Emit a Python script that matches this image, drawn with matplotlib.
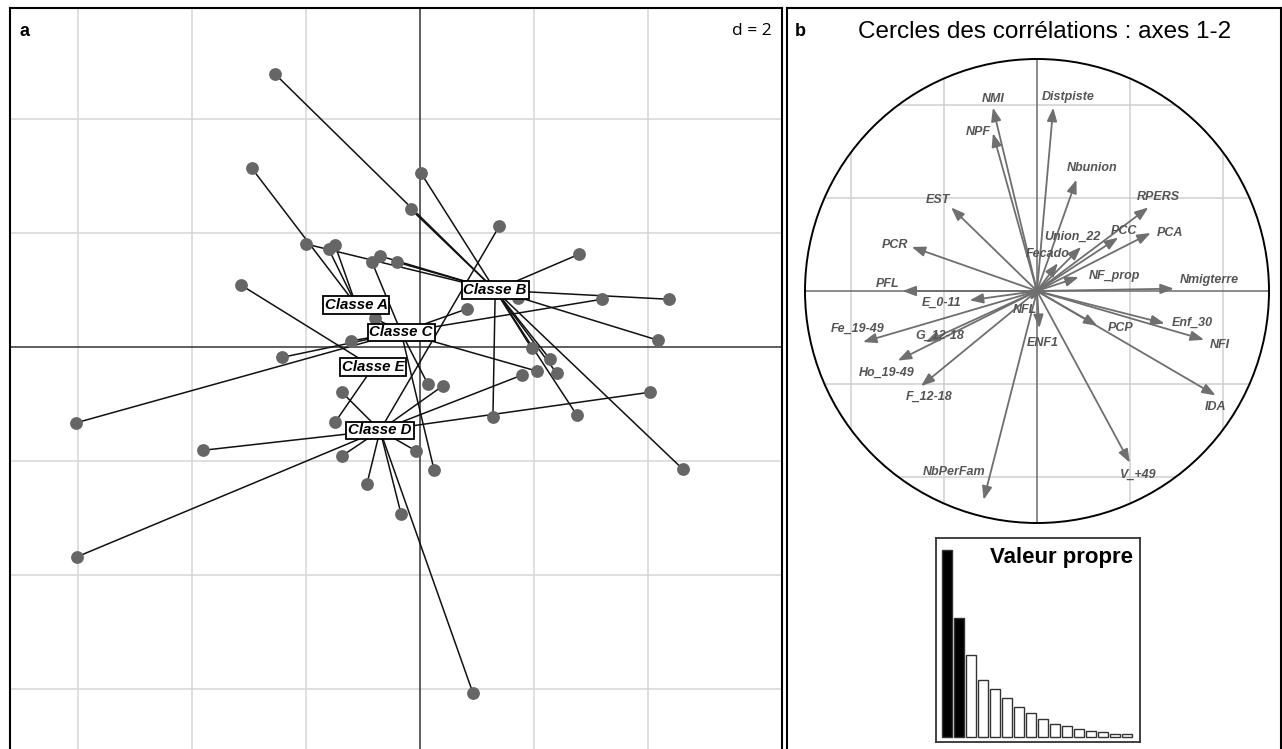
import matplotlib.pyplot as plt
from matplotlib.patches import Circle

plt.rcParams['font.family'] = ['Liberation Sans', 'DejaVu Sans']

W, H = 1282, 749

# individuals on the factorial plane (axes 1-2), grouped by class
class_names = ["Classe A", "Classe B", "Classe C", "Classe D", "Classe E"]
class_x = [-1.12, 1.32, -0.33, -0.70, -0.82]
class_y = [0.74, 1.00, 0.26, -1.46, -0.35]

ind_x = [-2.95, -1.60, -1.49,
         -2.54, 0.02, -0.16, -2.00, -0.70, -0.40, 2.79, 4.37, 4.18, 1.72,
         1.96, 2.28, 2.40, 1.28, 2.75, 4.61,
         -0.84, -0.79, -1.21, -2.42, -6.04, 3.19, 0.82, 2.05, 0.14, 0.25,
         1.39, -1.37, -1.37, -0.93, -0.33, -0.07, 0.40, 1.79, 4.04, 0.93,
         -3.81, -6.02,
         -3.14, -1.49]
ind_y = [3.14, 1.72, 1.79,
         4.79, 3.05, 2.42, 1.81, 1.60, 1.49, 1.63, 0.84, 0.12, 0.86,
         -0.02, -0.21, -0.46, -1.23, -1.19, -2.14,
         1.49, 0.51, 0.11, -0.18, -1.33, 0.84, 0.67, -0.42, -0.65, -2.16,
         2.12, -0.79, -1.91, -2.40, -2.93, -1.82, -0.68, -0.49, -0.79, -6.07,
         -1.81, -3.68,
         1.09, -1.32]
ind_class = (["Classe A"] * 3 + ["Classe B"] * 16 + ["Classe C"] * 10
             + ["Classe D"] * 12 + ["Classe E"] * 2)

# correlation circle
var_names = ["NMI", "NPF", "EST", "PCR", "PFL", "E_0-11", "NFL", "Distpiste",
             "Nbunion", "RPERS", "PCA", "PCC", "Union_22", "Fecado", "NF_prop",
             "Nmigterre", "Fe_19-49", "G_12-18", "Ho_19-49", "F_12-18",
             "NbPerFam", "ENF1", "Enf_30", "NFI", "PCP", "IDA", "V_+49"]
var_x = [-0.19, -0.19, -0.37, -0.54, -0.58, -0.29, -0.03, 0.07,
         0.17, 0.48, 0.49, 0.35, 0.19, 0.09, 0.18,
         0.59, -0.75, -0.48, -0.60, -0.50,
         -0.23, 0.01, 0.55, 0.72, 0.26, 0.77, 0.40]
var_y = [0.79, 0.68, 0.36, 0.19, 0.00, -0.04, -0.04, 0.79,
         0.48, 0.36, 0.25, 0.23, 0.19, 0.12, 0.06,
         0.01, -0.22, -0.22, -0.30, -0.41,
         -0.90, -0.16, -0.14, -0.21, -0.15, -0.45, -0.74]

eig_values = [5.62, 3.57, 2.47, 1.72, 1.45, 1.17, 0.89, 0.72,
              0.54, 0.40, 0.32, 0.25, 0.19, 0.14, 0.10, 0.09]
n_kept = 2

# label nudges (pixels) relative to each arrow tip
label_offsets = {
    "NMI": (0, 9), "NPF": (-15, 1), "EST": (-13, 7), "PCR": (-17, 2),
    "PFL": (-15, 7), "E_0-11": (-28, -3), "NFL": (-5, -10),
    "Distpiste": (15, 11), "Nbunion": (16, 12), "RPERS": (10, 10),
    "PCA": (19, 0), "PCC": (6, 7), "Union_22": (-9, 10), "Fecado": (-10, 9),
    "NF_prop": (36, 1), "Nmigterre": (35, 9), "Fe_19-49": (-5, 13),
    "G_12-18": (14, 6), "Ho_19-49": (-11, -12), "F_12-18": (8, -11),
    "NbPerFam": (-30, 28), "ENF1": (3, -15), "Enf_30": (28, 1),
    "NFI": (16, -5), "PCP": (23, -2), "IDA": (0, -12), "V_+49": (8, -12),
}


def fig_rect(x0, y0, x1, y1):
    return [x0 / W, 1 - y1 / H, (x1 - x0) / W, (y1 - y0) / H]


fig = plt.figure(figsize=(W / 100, H / 100), dpi=100)

# ---- panel a
ax = fig.add_axes(fig_rect(10, 8, 782, 749))
ax.set_xlim(-7.19, 6.35)
ax.set_ylim(-7.05, 5.95)
for g in [-6, -4, -2, 2, 4]:
    ax.axvline(g, color="#d6d6d6", lw=1.1, zorder=0)
    ax.axhline(g, color="#d6d6d6", lw=1.1, zorder=0)
ax.axvline(0, color="#333333", lw=1.1, zorder=1)
ax.axhline(0, color="#333333", lw=1.1, zorder=1)

for x, y, c in zip(ind_x, ind_y, ind_class):
    k = class_names.index(c)
    ax.plot([x, class_x[k]], [y, class_y[k]], color="#111111", lw=1.1, zorder=2)
ax.scatter(ind_x, ind_y, s=85, color="#666666", linewidths=0, zorder=3)
for name, x, y in zip(class_names, class_x, class_y):
    ax.text(x, y, name, ha="center", va="center", fontsize=10.8,
            fontweight="bold", fontstyle="italic", zorder=4,
            bbox=dict(boxstyle="square,pad=0.12", fc="white", ec="black", lw=1.3))
ax.set_xticks([])
ax.set_yticks([])
ax.spines["bottom"].set_visible(False)
for s in ["left", "top", "right"]:
    ax.spines[s].set_linewidth(1.5)

fig.text(24 / W, 1 - 32 / H, "a", ha="center", va="center",
         fontsize=13, fontweight="bold")
fig.text(772 / W, 1 - 31 / H, "d = 2", ha="right", va="center",
         fontsize=12.5, family=["Open Sans", "DejaVu Sans"])

# ---- panel b
R = 232
cx0, cy0 = 1037, 291
axb = fig.add_axes(fig_rect(787, 8, 1281, 749))
axb.set_xlim((787 - cx0) / R, (1281 - cx0) / R)
axb.set_ylim((cy0 - 749) / R, (cy0 - 8) / R)
axb.set_xticks([])
axb.set_yticks([])
axb.spines["bottom"].set_visible(False)
for s in ["left", "top", "right"]:
    axb.spines[s].set_linewidth(1.5)

clip = Circle((0, 0), 1, transform=axb.transData, fill=False)
for g in [-0.8, -0.4, 0.4, 0.8]:
    l1 = axb.axvline(g, color="#cfcfcf", lw=1.1, zorder=0)
    l2 = axb.axhline(g, color="#cfcfcf", lw=1.1, zorder=0)
    l1.set_clip_path(clip)
    l2.set_clip_path(clip)
for l in (axb.axvline(0, color="#777777", lw=1.2, zorder=1),
          axb.axhline(0, color="#777777", lw=1.2, zorder=1)):
    l.set_clip_path(clip)
axb.add_patch(Circle((0, 0), 1, fill=False, ec="black", lw=1.4, zorder=2))

for name, x, y in zip(var_names, var_x, var_y):
    axb.annotate("", xy=(x, y), xytext=(0, 0), zorder=3,
                 arrowprops=dict(arrowstyle="-|>,head_length=0.8,head_width=0.3",
                                 color="#6f6f6f", lw=1.3,
                                 shrinkA=0, shrinkB=0))
    dx, dy = label_offsets[name]
    axb.annotate(name, xy=(x, y), xytext=(dx, dy), textcoords="offset pixels",
                 ha="center", va="center", fontsize=9, fontweight="bold",
                 fontstyle="italic", color="#555555", zorder=4)

fig.text(800 / W, 1 - 32 / H, "b", ha="center", va="center",
         fontsize=13, fontweight="bold")
fig.text(1045 / W, 1 - 32 / H, "Cercles des corrélations : axes 1-2",
         ha="center", va="center", fontsize=17.5)

# eigenvalue inset
axe = fig.add_axes(fig_rect(936, 538, 1140, 742))
bar_colors = ["black" if i < n_kept else "white" for i in range(len(eig_values))]
axe.bar(range(len(eig_values)), eig_values, width=0.88, color=bar_colors,
        edgecolor="#333333", linewidth=1.0)
axe.set_xlim(-0.92, len(eig_values) - 0.5 + 0.58)
axe.set_ylim(-0.15, 5.98)
axe.set_xticks([])
axe.set_yticks([])
for s in axe.spines.values():
    s.set_linewidth(1.3)
    s.set_color("#333333")
axe.text(0.965, 0.905, "Valeur propre", transform=axe.transAxes,
         ha="right", va="center", fontsize=16, fontweight="bold")

fig.savefig("out.png", dpi=100)
